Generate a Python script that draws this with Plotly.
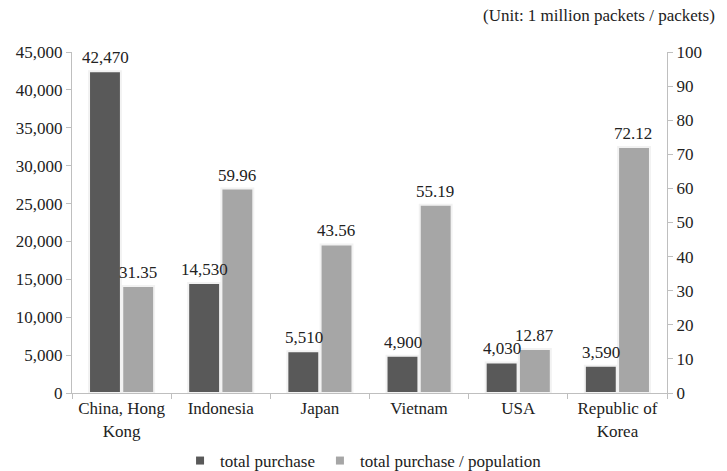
import plotly.graph_objects as go

categories = ["China, Hong<br>Kong", "Indonesia", "Japan", "Vietnam", "USA", "Republic of<br>Korea"]
total_purchase = [42470, 14530, 5510, 4900, 4030, 3590]
per_population = [31.35, 59.96, 43.56, 55.19, 12.87, 72.12]
series_names = ["total purchase", "total purchase / population"]
series_colors = ["#595959", "#a6a6a6"]

FONT = "Liberation Serif"
FS = 17
TXT = "#222"
BAR_SHIFT = 16  # px offset of each bar centre from the category centre

fig = go.Figure()
fig.add_trace(go.Bar(
    x=categories, y=total_purchase, name=series_names[0], showlegend=False,
    marker=dict(color=series_colors[0], line=dict(color="#f2f2f2", width=2)),
    offsetgroup="1", yaxis="y",
))
fig.add_trace(go.Bar(
    x=categories, y=per_population, name=series_names[1], showlegend=False,
    marker=dict(color=series_colors[1], line=dict(color="#f2f2f2", width=2)),
    offsetgroup="2", yaxis="y2",
))
# legend entries with small square markers
for name, col in zip(series_names, series_colors):
    fig.add_trace(go.Scatter(
        x=[None], y=[None], mode="markers", name=name,
        marker=dict(symbol="square", size=8, color=col),
    ))

annotations = []
for c, v in zip(categories, total_purchase):
    annotations.append(dict(
        x=c, y=v, xref="x", yref="y", text=f"{v:,}", showarrow=False,
        xshift=-BAR_SHIFT, yanchor="bottom", yshift=2,
        font=dict(family=FONT, size=FS, color=TXT),
    ))
for c, v in zip(categories, per_population):
    annotations.append(dict(
        x=c, y=v, xref="x", yref="y2", text=f"{v:.2f}", showarrow=False,
        xshift=BAR_SHIFT, yanchor="bottom", yshift=2,
        font=dict(family=FONT, size=FS, color=TXT),
    ))
annotations.append(dict(
    text="(Unit: 1 million packets / packets)", xref="paper", yref="paper",
    x=(717 - 72) / 595, y=(393 - 15) / 341, xanchor="right", yanchor="middle",
    showarrow=False, font=dict(family=FONT, size=FS, color=TXT),
))

fig.update_layout(
    width=727, height=471,
    margin=dict(l=72, r=60, t=52, b=78, autoexpand=False),
    paper_bgcolor="white", plot_bgcolor="white",
    font=dict(family=FONT, size=FS, color=TXT),
    barmode="group", bargap=0.33, bargroupgap=0.04,
    xaxis=dict(
        showline=True, linecolor="#bfbfbf", linewidth=1,
        ticks="outside", tickson="boundaries", ticklen=5, tickcolor="#bfbfbf",
        tickfont=dict(family=FONT, size=FS, color=TXT),
    ),
    yaxis=dict(
        range=[0, 45000], dtick=5000, tickformat=",",
        showline=True, linecolor="#bfbfbf", linewidth=1,
        ticks="outside", ticklen=5, tickcolor="#bfbfbf",
        showgrid=False, zeroline=False,
        tickfont=dict(family=FONT, size=FS, color=TXT),
    ),
    yaxis2=dict(
        range=[0, 100], dtick=10, overlaying="y", side="right",
        showline=True, linecolor="#bfbfbf", linewidth=1,
        ticks="outside", ticklen=5, tickcolor="#bfbfbf",
        showgrid=False, zeroline=False,
        tickfont=dict(family=FONT, size=FS, color=TXT),
    ),
    legend=dict(
        orientation="h", x=0.49, xanchor="center",
        yref="container", y=(471 - 461) / 471, yanchor="middle",
        font=dict(family=FONT, size=FS, color=TXT),
        itemwidth=30, tracegroupgap=0,
    ),
    annotations=annotations,
)

fig.write_html("out.html")
